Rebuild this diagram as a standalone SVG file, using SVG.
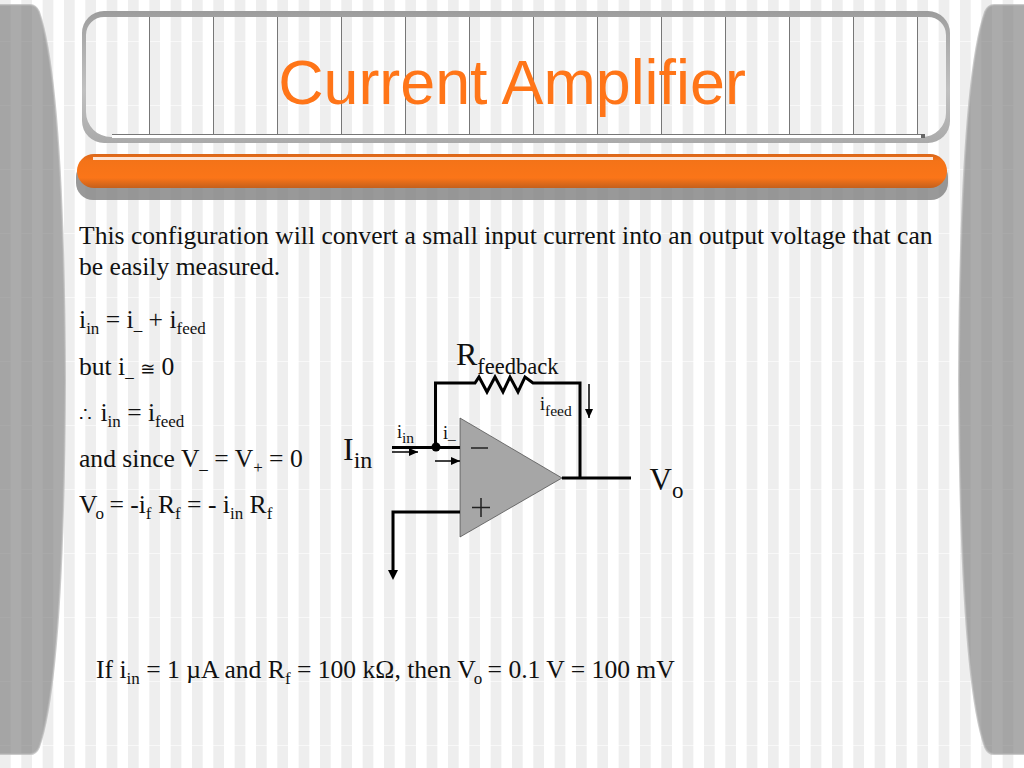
<svg xmlns="http://www.w3.org/2000/svg" width="1024" height="768" viewBox="0 0 1024 768">
<style>
text{font-family:"Liberation Serif","Times New Roman",serif;fill:#111}
.b{font-size:25.6px}
.s{font-size:17px}
.w{fill:none;stroke:#000;stroke-width:3}
.t{fill:none;stroke:#000;stroke-width:1.5}
.v{stroke:#777;stroke-width:1}
.side{fill:#808080;fill-opacity:.66;stroke:#b4b4b4;stroke-width:2;stroke-opacity:.7}
</style>
<defs>
<pattern id="bg" width="64" height="64" patternUnits="userSpaceOnUse" patternTransform="translate(0 -22)">
<rect width="64" height="64" fill="#fff"/>
<rect x="0" width="10.67" height="64" fill="#eee"/>
<rect x="21.33" width="10.67" height="64" fill="#eee"/>
<rect x="42.67" width="10.67" height="64" fill="#eee"/>
<rect y="63" width="64" height="1" fill="#fff" fill-opacity=".6"/>
</pattern>
<linearGradient id="bar" x1="0" y1="0" x2="0" y2="1">
<stop offset="0" stop-color="#d9661a"/><stop offset=".2" stop-color="#f47318"/><stop offset=".7" stop-color="#fb7518"/><stop offset="1" stop-color="#c4601c"/>
</linearGradient>
<linearGradient id="fr" x1="0" y1="0" x2="0" y2="1">
<stop offset="0" stop-color="#9c9c9c"/><stop offset=".15" stop-color="#a8a8a8"/><stop offset=".6" stop-color="#c0c0c0"/><stop offset="1" stop-color="#aaa"/>
</linearGradient>
<marker id="ah" markerUnits="userSpaceOnUse" markerWidth="10" markerHeight="10" refX="9" refY="4" orient="auto"><path d="M0 0L9 4L0 8Z" fill="#000"/></marker>
<marker id="ahb" markerUnits="userSpaceOnUse" markerWidth="12" markerHeight="12" refX="2" refY="5" orient="auto"><path d="M0 0L10 5L0 10Z" fill="#000"/></marker>
</defs>
<rect width="1024" height="768" fill="url(#bg)"/>

<g id="side-left"><path class="side" d="M-2 5H30Q36 5 39 12C52 50 64 150 65 380C64 610 52 710 39 747Q36 754 30 754H-2Z"/></g>
<g id="side-right"><path class="side" d="M1026 5H994Q988 5 985 12C972 50 960 150 959 380C960 610 972 710 985 747Q988 754 994 754H1026Z"/></g>

<g id="title-box">
<path fill-rule="evenodd" d="M104 11H928A22 22 0 0 1 950 33V121A22 22 0 0 1 928 143H104A22 22 0 0 1 82 121V33A22 22 0 0 1 104 11ZM104 17A18 18 0 0 0 86 35V112A25 25 0 0 0 111 137H922A24 24 0 0 0 946 113V35A18 18 0 0 0 928 17Z" fill="url(#fr)"/>
<g class="v">
<line x1="149.500" y1="17" x2="149.500" y2="134"/><line x1="213.500" y1="17" x2="213.500" y2="134"/><line x1="277.500" y1="17" x2="277.500" y2="134"/><line x1="341.500" y1="17" x2="341.500" y2="134"/><line x1="405.500" y1="17" x2="405.500" y2="134"/><line x1="469.500" y1="17" x2="469.500" y2="134"/><line x1="533.500" y1="17" x2="533.500" y2="134"/><line x1="597.500" y1="17" x2="597.500" y2="134"/><line x1="661.500" y1="17" x2="661.500" y2="134"/><line x1="725.500" y1="17" x2="725.500" y2="134"/><line x1="789.500" y1="17" x2="789.500" y2="134"/><line x1="853.500" y1="17" x2="853.500" y2="134"/><line x1="917.500" y1="17" x2="917.500" y2="134"/>
<line x1="112" y1="134.500" x2="922" y2="134.500"/>
</g>
<rect x="112" y="135" width="810" height="3" fill="#fff"/>
<rect x="921" y="134" width="4" height="4" fill="#666"/>
<text x="512" y="104" text-anchor="middle" style="font-family:'Liberation Sans',Arial,sans-serif;font-size:62.8px;fill:#ff7518">Current Amplifier</text>
</g>

<g id="title-bar">
<rect x="76" y="160" width="872" height="40" rx="17" fill="#808080" fill-opacity=".8"/>
<rect x="77" y="154" width="870" height="34" rx="17" fill="url(#bar)"/>
<rect x="93" y="157" width="840" height="3" fill="#fde6d6"/>
</g>

<g id="body-text">
<text class="b" x="79" y="244">This configuration will convert a small input current into an output voltage that can</text>
<text class="b" x="79" y="275">be easily measured.</text>
<text class="b" x="79" y="328">i<tspan class="s" dy="6">in</tspan><tspan dy="-6"> = i</tspan><tspan class="s" dy="2">_</tspan><tspan dy="-2"> + i</tspan><tspan class="s" dy="6">feed</tspan></text>
<text class="b" x="79" y="375">but i<tspan class="s" dy="2">_</tspan><tspan dy="-2"> </tspan><tspan style="font-family:'DejaVu Sans';font-size:18px">≅</tspan><tspan> 0</tspan></text>
<text class="b" x="79" y="421"><tspan style="font-size:20px">∴</tspan><tspan dx="2"> i</tspan><tspan class="s" dy="6">in</tspan><tspan dy="-6"> = i</tspan><tspan class="s" dy="6">feed</tspan></text>
<text class="b" x="79" y="467">and since V<tspan class="s" dy="2">_</tspan><tspan dy="-2"> = V</tspan><tspan class="s" dy="6">+</tspan><tspan dy="-6"> = 0</tspan></text>
<text class="b" x="79" y="513">V<tspan class="s" dy="6" dx="-2">o</tspan><tspan dy="-6" dx="-1"> = -i</tspan><tspan class="s" dy="6">f</tspan><tspan dy="-6"> R</tspan><tspan class="s" dy="6">f</tspan><tspan dy="-6"> = - i</tspan><tspan class="s" dy="6">in</tspan><tspan dy="-6"> R</tspan><tspan class="s" dy="6">f</tspan></text>
<text class="b" x="96" y="678">If i<tspan class="s" dy="6">in</tspan><tspan dy="-6"> = 1 µA and R</tspan><tspan class="s" dy="6">f</tspan><tspan dy="-6"> = 100 kΩ, then V</tspan><tspan class="s" dy="6" dx="-2">o</tspan><tspan dy="-6" dx="-1"> = 0.1 V = 100 mV</tspan></text>
</g>

<g id="opamp">
<path d="M460 418V537L562 478Z" fill="#a6a6a6" stroke="#444" stroke-width=".7"/>
<path d="M471 448H488M472 507.500H490M481 498V517" fill="none" stroke="#222" stroke-width="1.500"/>
</g>

<g id="connectors">
<path class="w" d="M392 447.500H460"/>
<path class="w" d="M435.500 447V383H475L479 377L487 392L495 377L503 392L510 377L518 392L525 377L533 383H580V478"/>
<path class="w" d="M562 478H631"/>
<path class="w" d="M460 512H393V572" marker-end="url(#ahb)"/>
<circle cx="436" cy="447" r="4.500" fill="#000"/>
<path class="t" d="M392 452H418" marker-end="url(#ah)"/>
<path class="t" d="M435 461H460" marker-end="url(#ah)"/>
<path class="t" d="M589 384V418" marker-end="url(#ah)"/>
</g>

<g id="labels">
<text x="456" y="365" style="font-size:32px">R<tspan dy="9" style="font-size:22.500px">feedback</tspan></text>
<text x="540" y="410" style="font-size:18px">i<tspan dy="6" style="font-size:15.500px">feed</tspan></text>
<text x="397" y="438" style="font-size:18px">i<tspan dy="5" style="font-size:15.500px">in</tspan></text>
<text x="443" y="439" style="font-size:18px">i<tspan style="font-size:15.500px">_</tspan></text>
<text x="343" y="460" style="font-size:32px">I<tspan dy="8" style="font-size:24px">in</tspan></text>
<text x="649.500" y="490" style="font-size:31px">V<tspan dy="8" style="font-size:23px">o</tspan></text>
</g>
</svg>
